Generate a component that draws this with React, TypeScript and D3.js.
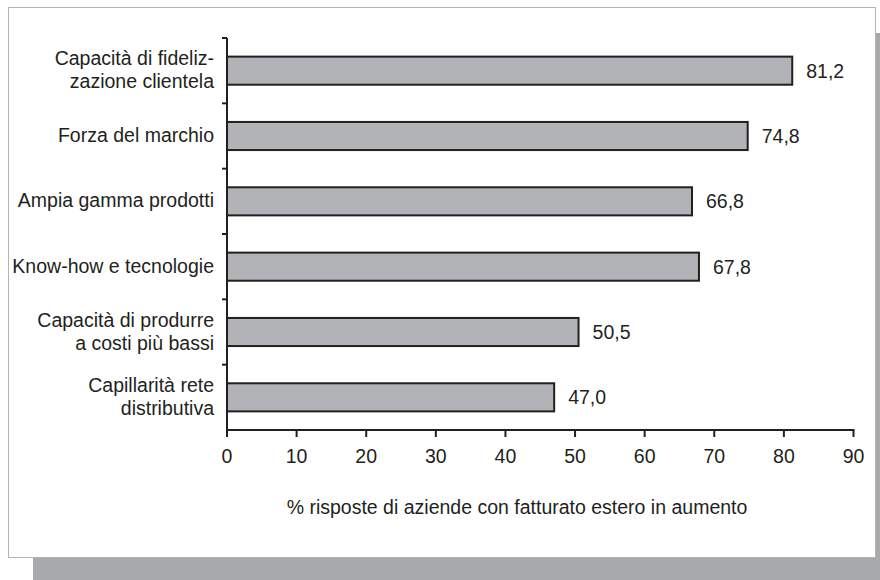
import React from "react";
import * as d3 from "d3";

// Categories (top to bottom) and their percentages
const categories: string[][] = [
  ["Capacità di fideliz-", "zazione clientela"],
  ["Forza del marchio"],
  ["Ampia gamma prodotti"],
  ["Know-how e tecnologie"],
  ["Capacità di produrre", "a costi più bassi"],
  ["Capillarità rete", "distributiva"],
];
const values: number[] = [81.2, 74.8, 66.8, 67.8, 50.5, 47.0];
const xTicks: number[] = [0, 10, 20, 30, 40, 50, 60, 70, 80, 90];
const axisTitle = "% risposte di aziende con fatturato estero in aumento";

const W = 880;
const H = 580;
const ink = "#231f20";
const font = "'Liberation Sans', Arial, Helvetica, sans-serif";
const fs = 19.5;

export default function App() {
  const keys = categories.map((c) => c.join(" "));
  const x = d3.scaleLinear().domain([0, 90]).range([227, 853.5]);
  const y = d3
    .scaleBand<string>()
    .domain(keys)
    .range([38, 430])
    .paddingInner(0.57)
    .paddingOuter(0.285);
  const step = y.step();
  const bw = y.bandwidth();
  const fmt = (v: number) => d3.format(".1f")(v).replace(".", ",");
  const boundaries = d3.range(keys.length).map(
    (i) => (y(keys[i]) as number) - (step - bw) / 2
  );
  const axisY = 430;

  return (
    <div style={{ position: "fixed", left: 0, top: 0 }}>
      <svg width={W} height={H} style={{ display: "block" }}>
        <rect x={0} y={0} width={W} height={H} fill="#ffffff" />
        {/* drop shadow behind the panel */}
        <rect x={33} y={33} width={W - 33} height={H - 33} fill="#a7a9ac" />
        {/* panel */}
        <rect
          x={8.5}
          y={7.5}
          width={867}
          height={550}
          fill="#ffffff"
          stroke="#b4b4b4"
          strokeWidth={1}
        />

        {/* bars */}
        {values.map((v, i) => (
          <g key={keys[i]}>
            <rect
              x={x(0)}
              y={y(keys[i])}
              width={x(v) - x(0)}
              height={bw}
              fill="#b1b3b6"
              stroke={ink}
              strokeWidth={2}
            />
            <text
              x={x(v) + 14}
              y={(y(keys[i]) as number) + bw / 2}
              dy="0.36em"
              fontFamily={font}
              fontSize={fs}
              fill={ink}
            >
              {fmt(v)}
            </text>
          </g>
        ))}

        {/* category labels */}
        {categories.map((lines, i) => {
          const cy = (y(keys[i]) as number) + bw / 2 - 1;
          const lh = 23;
          return (
            <text
              key={keys[i]}
              x={214}
              textAnchor="end"
              fontFamily={font}
              fontSize={fs}
              fill={ink}
            >
              {lines.map((ln, j) => (
                <tspan
                  key={j}
                  x={214}
                  y={cy + (j - (lines.length - 1) / 2) * lh}
                  dy="0.36em"
                >
                  {ln}
                </tspan>
              ))}
            </text>
          );
        })}

        {/* y axis */}
        <line x1={x(0)} x2={x(0)} y1={boundaries[0]} y2={axisY} stroke={ink} strokeWidth={2} />
        {boundaries.map((b, i) => (
          <line key={i} x1={x(0) - 5} x2={x(0)} y1={b} y2={b} stroke={ink} strokeWidth={2} />
        ))}

        {/* x axis */}
        <line x1={x(0) - 1} x2={x(90) + 1} y1={axisY} y2={axisY} stroke={ink} strokeWidth={2} />
        {xTicks.map((t) => (
          <g key={t}>
            <line x1={x(t)} x2={x(t)} y1={axisY} y2={axisY + 7} stroke={ink} strokeWidth={2} />
            <text
              x={x(t)}
              y={456}
              dy="0.36em"
              textAnchor="middle"
              fontFamily={font}
              fontSize={fs}
              fill={ink}
            >
              {t}
            </text>
          </g>
        ))}

        <text
          x={517}
          y={507}
          dy="0.36em"
          textAnchor="middle"
          fontFamily={font}
          fontSize={fs}
          fill={ink}
        >
          {axisTitle}
        </text>
      </svg>
    </div>
  );
}
